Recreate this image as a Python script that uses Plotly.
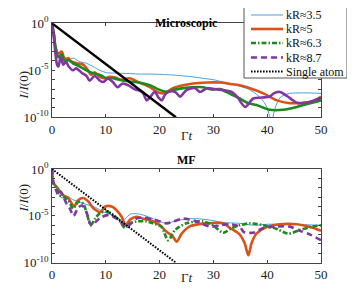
import plotly.graph_objects as go

# ---------------- data (log10 of I/I(0)) ----------------
labels = ["kR≈3.5", "kR≈5", "kR≈6.3", "kR≈8.7", "Single atom"]

# Microscopic
mic_t_35 = [0, 0.3, 0.6, 1.2, 1.8, 2.4, 3.0, 3.9, 5.2, 6.4, 7.6, 8.9, 10.1, 11.9, 14.4, 16.4, 18.5, 20.5,
            22.5, 24.5, 26.2, 28, 30, 31.5, 33.1, 34.9, 36.5, 37.4, 38.5, 39.3, 39.9, 40.4, 40.8, 41.2,
            41.6, 42.4, 43.5, 44.2, 46.7, 50]
mic_e_35 = [0, -1.3, -2.5, -3.4, -3.7, -3.55, -3.9, -3.7, -4.1, -4.25, -4.6, -5.0, -5.25, -5.3, -5.35,
            -5.4, -5.4, -5.45, -5.5, -5.6, -5.7, -5.85, -6.0, -6.2, -6.4, -6.7, -7.0, -7.3, -7.8, -8.3,
            -8.9, -9.8, -11, -9.6, -8.8, -7.9, -7.55, -7.45, -7.4, -7.45]

mic_t_5 = [0, 0.4, 0.6, 1.2, 1.8, 2.4, 3.0, 3.6, 4.6, 5.8, 6.7, 7.3, 7.9, 8.9, 9.8, 10.7, 11.9, 12.8,
           14.4, 16.2, 18.2, 19.5, 20.5, 21.3, 22.5, 24.4, 26.2, 28.8, 31.2, 33.1, 34.9, 36.8, 39.3,
           41.8, 44.2, 46.7, 48.5, 50]
mic_e_5 = [0, -1.4, -2.5, -3.2, -3.0, -3.9, -3.7, -4.05, -4.25, -4.4, -5.0, -5.5, -5.2, -5.7, -5.85,
           -5.7, -5.8, -6.0, -5.85, -6.3, -6.8, -7.3, -7.45, -7.3, -6.9, -6.6, -6.4, -6.3, -6.3, -6.45,
           -6.6, -6.9, -7.45, -8.2, -8.5, -8.45, -8.3, -7.8]

mic_t_63 = [0, 0.4, 0.6, 1.2, 1.8, 2.4, 3.0, 3.9, 5.2, 6.4, 7.6, 8.9, 10.1, 11.3, 12.5, 14.4, 16.2,
            18.2, 20.1, 21.4, 22.5, 24.4, 26.2, 28.1, 29.7, 31.2, 33.1, 34.9, 36.5, 38, 40.5, 43,
            45.5, 48, 50]
mic_e_63 = [0, -1.3, -2.3, -3.6, -3.3, -4.1, -3.9, -4.25, -4.6, -5.0, -5.3, -5.5, -5.85, -5.85, -6.0,
            -6.2, -6.3, -6.6, -7.1, -7.3, -7.1, -6.9, -6.8, -6.8, -7.05, -7.0, -7.5, -8.0, -8.5, -8.7,
            -9.2, -9.2, -8.9, -8.5, -8.2]

mic_t_87 = [0, 0.4, 0.9, 1.2, 1.6, 2.1, 2.6, 3.1, 3.9, 4.5, 5.6, 6.4, 7.0, 7.9, 8.9, 9.5, 10.4, 11.3,
            12.2, 13.1, 14.2, 15.3, 16.4, 17.0, 17.6, 18.3, 19.1, 19.8, 20.4, 21.0, 21.6, 22.9, 23.8,
            25.0, 26.6, 27.5, 28.8, 30.3, 31.8, 33.4, 34.4, 35.9, 37.4, 39.0, 40.5, 41.2, 42.4, 43.6,
            45.5, 47.3, 50]
mic_e_87 = [0, -1.8, -4.3, -4.6, -3.6, -4.4, -4.1, -4.6, -5.0, -4.8, -5.3, -5.6, -6.1, -5.6, -6.1,
            -6.25, -5.9, -6.25, -6.8, -6.4, -6.6, -7.0, -7.2, -7.5, -8.2, -7.8, -7.3, -7.9, -8.2, -7.6,
            -7.3, -7.3, -7.8, -7.1, -6.9, -7.3, -6.9, -7.0, -7.1, -7.3, -7.8, -8.9, -8.0, -7.9, -7.8,
            -7.45, -7.3, -7.7, -8.45, -8.45, -7.95]

single_t = [0, 23.03]
single_e = [0, -10]

# Mean field
mf_t_35 = [0, 0.37, 0.87, 1.5, 2.1, 3.0, 3.96, 5.0, 6.5, 7.7, 9.5, 11.1, 12.0, 13.0, 13.6, 14.6, 16.1,
           17.9, 20.1, 21.3, 23.2, 25.7, 28.8, 31.8, 34.9, 37.5, 40, 43.7, 47, 50]
mf_e_35 = [0, -1.7, -2.06, -2.95, -3.1, -2.95, -3.3, -3.5, -3.8, -4.0, -4.55, -4.9, -5.1, -5.5, -5.3,
           -4.8, -4.8, -5.1, -5.6, -5.8, -5.5, -5.3, -5.4, -5.7, -5.8, -6.0, -5.9, -5.9, -5.95, -6.0]

mf_t_5 = [0, 0.25, 0.87, 1.5, 2.1, 3.0, 3.7, 4.1, 4.9, 5.8, 6.8, 7.7, 9.0, 9.9, 11.1, 12.0, 12.95,
          13.7, 14.5, 15.7, 16.9, 18.2, 20.1, 21.3, 22.3, 23.2, 24.1, 25.7, 28.8, 31.8, 33.1, 34.9,
          35.8, 36.5, 37.1, 38.0, 39.9, 42.4, 45.5, 48, 50]
mf_e_5 = [0, -1.5, -1.9, -2.4, -2.8, -3.1, -3.7, -4.0, -3.3, -3.1, -3.5, -4.2, -4.6, -4.0, -4.0, -4.4,
          -5.1, -6.0, -5.4, -5.1, -5.3, -5.45, -6.0, -6.7, -7.1, -7.75, -6.9, -6.1, -5.8, -5.8, -6.3,
          -7.0, -7.9, -9.2, -7.9, -6.9, -6.2, -5.9, -5.9, -6.2, -6.6]

mf_t_63 = [0, 0.25, 0.87, 1.5, 2.1, 3.0, 3.95, 4.9, 5.8, 6.4, 7.2, 8.0, 8.9, 10.2, 11.4, 12.6, 13.6,
           14.5, 15.7, 17.6, 18.8, 20.3, 21.6, 22.9, 25.0, 28.1, 29.9, 31.8, 33.4, 34.9, 36.8, 39.3,
           41.8, 43.9, 46.1, 48, 50]
mf_e_63 = [0, -1.5, -2.06, -2.8, -2.95, -3.3, -4.2, -3.5, -3.7, -4.6, -6.0, -5.3, -4.7, -4.55, -4.9,
           -5.6, -6.3, -5.8, -5.6, -5.6, -5.8, -6.15, -7.6, -6.5, -5.8, -5.6, -6.0, -6.8, -6.3, -6.0,
           -5.8, -6.0, -6.4, -6.9, -6.5, -6.2, -6.0]

mf_t_87 = [0, 0.25, 0.75, 1.2, 1.6, 2.1, 2.7, 3.3, 4.0, 4.9, 5.6, 6.4, 7.3, 8.2, 9.0, 10.6, 12.0, 13.0,
           13.9, 14.7, 15.7, 17.0, 19.0, 21.3, 22.6, 24.4, 26.9, 29.4, 31.2, 33.1, 34.9, 35.6, 37.4,
           39.3, 41.8, 44.2, 46.1, 48, 50]
mf_e_87 = [0, -1.4, -2.25, -2.8, -2.4, -2.95, -3.7, -4.2, -5.0, -4.1, -3.9, -4.6, -6.0, -5.6, -5.2,
           -4.9, -5.3, -5.8, -6.2, -5.8, -5.3, -5.2, -5.4, -5.8, -5.6, -5.3, -5.6, -6.15, -6.0, -5.9,
           -6.15, -6.7, -6.8, -6.3, -6.15, -6.15, -6.6, -7.0, -7.6]

x_ticks = [0, 10, 20, 30, 40, 50]
y_major_exps = [0, -5, -10]
y_major_text = ["10<sup>0</sup>", "10<sup>-5</sup>", "10<sup>-10</sup>"]
y_minor_exps = [-1, -2, -3, -4, -6, -7, -8, -9]

# ---------------- styles ----------------
colors = ["#4A9FE0", "#D95319", "#1A8A1A", "#8236A0", "#000000"]
widths = [1.0, 2.6, 2.6, 2.6, 2.2]
mf_dashes = ["solid", "solid", "5px,2px,1.5px,2px", "6px,4px", "1.6px,1.4px"]
FONT = "Liberation Serif"
H = 303.0
W = 355.0
OFF = 8.0            # the page body margin shifts the figure by 8 px
PL, PR = 52.0, 321.0  # wanted plot-area edges in the window
W_PLOT = PR - PL


def pw(e):
    return [10 ** v for v in e]


def px_x(p):
    return (p - PL) / W_PLOT


def px_y(p):
    return 1 - (p - OFF) / H


fig = go.Figure()

mic_sets = [(mic_t_35, mic_e_35), (mic_t_5, mic_e_5), (mic_t_63, mic_e_63), (mic_t_87, mic_e_87)]
for i, (t, e) in enumerate(mic_sets):
    fig.add_trace(go.Scatter(x=t, y=pw(e), mode="lines", xaxis="x", yaxis="y", name=labels[i],
                             line=dict(color=colors[i], width=widths[i], shape="spline", smoothing=0.8),
                             showlegend=False, hoverinfo="skip"))
fig.add_trace(go.Scatter(x=single_t, y=pw(single_e), mode="lines", xaxis="x", yaxis="y",
                         name=labels[4], line=dict(color="black", width=2.4), showlegend=False))

mf_sets = [(mf_t_35, mf_e_35), (mf_t_5, mf_e_5), (mf_t_63, mf_e_63), (mf_t_87, mf_e_87)]
for i, (t, e) in enumerate(mf_sets):
    fig.add_trace(go.Scatter(x=t, y=pw(e), mode="lines", xaxis="x2", yaxis="y2", name=labels[i],
                             line=dict(color=colors[i], width=widths[i], dash=mf_dashes[i],
                                       shape="spline", smoothing=0.8), showlegend=False))
fig.add_trace(go.Scatter(x=single_t, y=pw(single_e), mode="lines", xaxis="x2", yaxis="y2",
                         name=labels[4], line=dict(color="black", width=2.0, dash=mf_dashes[4]),
                         showlegend=False))

axis_common = dict(showline=True, linecolor="#444", linewidth=0.8, mirror="ticks", ticks="inside",
                   ticklen=3, tickcolor="#444", showgrid=False, zeroline=False, automargin=False,
                   tickfont=dict(family=FONT, size=13, color="#222"))
xax = dict(axis_common, range=[0, 50], tickvals=x_ticks, ticktext=[str(v) for v in x_ticks])
yax = dict(axis_common, type="log", range=[-10, 0], tickvals=[10 ** v for v in y_major_exps],
           ticktext=y_major_text,
           minor=dict(tickvals=[10 ** v for v in y_minor_exps], ticks="inside", ticklen=3,
                      tickcolor="#444", showgrid=False))

# manual legend (compact, as in the reference)
shapes = [dict(type="rect", xref="paper", yref="paper", x0=px_x(244), x1=px_x(347),
               y0=px_y(78), y1=px_y(3), fillcolor="white", line=dict(color="#555", width=1),
               layer="above")]
annotations = []
rows = [15, 29, 43, 57.5, 71.5]
for i, ry in enumerate(rows):
    shapes.append(dict(type="line", xref="paper", yref="paper", x0=px_x(251), x1=px_x(283),
                       y0=px_y(ry), y1=px_y(ry), layer="above",
                       line=dict(color=colors[i], width=widths[i] if i < 4 else 2.0,
                                 dash=mf_dashes[i])))
    annotations.append(dict(text=labels[i], x=px_x(284), y=px_y(ry), xref="paper", yref="paper",
                            xanchor="left", yanchor="middle", showarrow=False,
                            font=dict(family=FONT, size=12, color="#111")))

annotations += [
    dict(text="<b>Microscopic</b>", x=0.5, y=px_y(13.5), xref="paper", yref="paper",
         showarrow=False, font=dict(family=FONT, size=12, color="black")),
    dict(text="<b>MF</b>", x=0.5, y=px_y(160), xref="paper", yref="paper",
         showarrow=False, font=dict(family=FONT, size=12, color="black")),
    dict(text="Γ<i>t</i>", x=0.5, y=px_y(135), xref="paper", yref="paper",
         showarrow=False, font=dict(family=FONT, size=13, color="#222")),
    dict(text="Γ<i>t</i>", x=0.5, y=px_y(287), xref="paper", yref="paper",
         showarrow=False, font=dict(family=FONT, size=13, color="#222")),
    dict(text="<i>I</i>/<i>I</i>(0)", x=px_x(13), y=px_y(70), xref="paper",
         yref="paper", textangle=-90, showarrow=False,
         font=dict(family=FONT, size=13, color="#222")),
    dict(text="<i>I</i>/<i>I</i>(0)", x=px_x(13), y=px_y(215), xref="paper",
         yref="paper", textangle=-90, showarrow=False,
         font=dict(family=FONT, size=13, color="#222")),
]

fig.update_layout(
    width=W, height=H,
    margin=dict(l=PL - OFF, r=W - (PR - OFF), t=0, b=0, pad=0, autoexpand=False),
    paper_bgcolor="white", plot_bgcolor="white",
    xaxis=dict(xax, domain=[0, 1], anchor="y"),
    yaxis=dict(yax, domain=[px_y(117.3), px_y(23.3)], anchor="x"),
    xaxis2=dict(xax, domain=[0, 1], anchor="y2"),
    yaxis2=dict(yax, domain=[px_y(262.7), px_y(169)], anchor="x2"),
    showlegend=False,
    font=dict(family=FONT, color="#222"),
    shapes=shapes,
    annotations=annotations,
)

fig.write_html("out.html")
